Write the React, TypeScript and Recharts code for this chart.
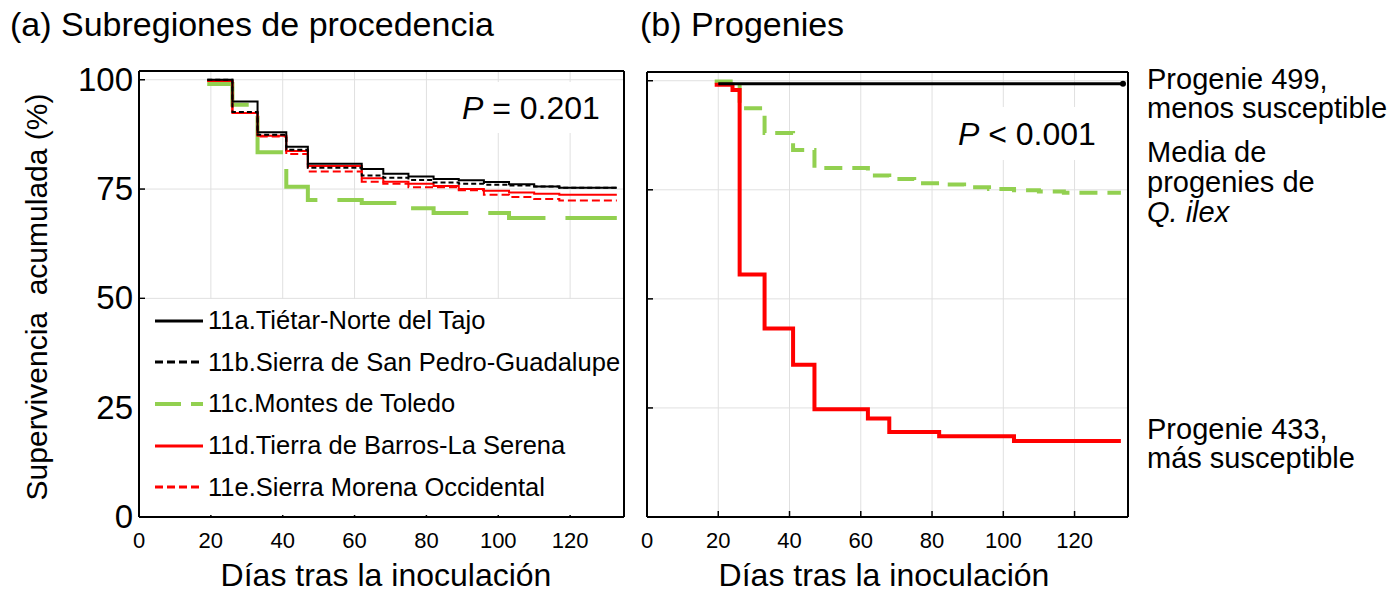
import React from 'react';
import { LineChart, Line, XAxis, YAxis, CartesianGrid, Legend } from 'recharts';

// (a) subregiones: weekly census days
const subregionDays = [19, 26, 33, 41, 47, 62, 68, 75, 82, 89, 96, 103, 110, 117, 133];
const surv11a = [100, 95, 88, 84.7, 80.8, 79.6, 78.5, 77.9, 77.3, 77, 76.6, 76.1, 75.6, 75.3, 75.3];
const surv11b = [100, 92.6, 87.4, 84, 79.9, 78.1, 77.6, 77.1, 76.5, 76.2, 76, 75.8, 75.6, 75.3, 75.3];
const surv11c = [99, 94.3, 83.4, 75.5, 72.5, 71.8, 71.8, 70.6, 69.5, 69.5, 69.5, 68.4, 68.4, 68.4, 68.4];
const surv11d = [99.7, 92.4, 87.2, 83.7, 80.3, 77.5, 76.7, 76.2, 75.7, 75, 74.6, 74.2, 73.9, 73.7, 73.7];
const surv11e = [99.7, 92.4, 87, 83, 79, 76.7, 76.2, 75.4, 75.4, 74.7, 73.7, 73.2, 72.7, 72.4, 72.4];
const subregionNames = [
    '11a.Tiétar-Norte del Tajo',
    '11b.Sierra de San Pedro-Guadalupe',
    '11c.Montes de Toledo',
    '11d.Tierra de Barros-La Serena',
    '11e.Sierra Morena Occidental',
];

// (b) progenies
const days499 = [20, 133.6];
const surv499 = [99.3, 99.3];
const daysMean = [19, 26, 33, 41, 47, 62, 68, 75, 82, 89, 96, 103, 110, 117, 133];
const survMean = [99.8, 93.7, 88, 84.1, 80, 78.3, 77.5, 76.5, 76.2, 75.6, 75.2, 74.9, 74.6, 74.3, 74.3];
const days433 = [19, 24, 26, 33, 41, 47, 62, 68, 82, 103, 133];
const surv433 = [99.1, 97.9, 55.6, 43.2, 34.9, 24.7, 22.6, 19.5, 18.5, 17.4, 17.4];

const xTicks = [0, 20, 40, 60, 80, 100, 120];
const yTicks = [0, 25, 50, 75, 100];

const zip = (days: number[], vals: number[]) => days.map((d, i) => ({ day: d, surv: vals[i] }));

const GREEN = '#92d050';
const RED = '#ff0000';

const subregionSeries = [
    { name: subregionNames[2], data: zip(subregionDays, surv11c), color: GREEN, width: 4, dash: '62 20', legendDash: '26 10' },
    { name: subregionNames[4], data: zip(subregionDays, surv11e), color: RED, width: 2, dash: '8 4', legendDash: '8 4' },
    { name: subregionNames[3], data: zip(subregionDays, surv11d), color: RED, width: 2, dash: undefined, legendDash: undefined },
    { name: subregionNames[1], data: zip(subregionDays, surv11b), color: '#000', width: 2, dash: '5 3', legendDash: '8 4' },
    { name: subregionNames[0], data: zip(subregionDays, surv11a), color: '#000', width: 2, dash: undefined, legendDash: undefined },
];
const legendOrder = [4, 3, 0, 2, 1];

const FONT = 'Arial, "Liberation Sans", Helvetica, sans-serif';

const LeftTick = ({ x, y, payload, showLabel }: any) => (
    <g>
        <line x1={x + 6} x2={x + 12} y1={y} y2={y} stroke="#000" strokeWidth={1.5} />
        {showLabel && (
            <text x={x} y={y + 11} textAnchor="end" fontSize={33} fill="#000">
                {payload.value}
            </text>
        )}
    </g>
);

const BottomTick = ({ x, y, payload }: any) => (
    <g>
        <line x1={x} x2={x} y1={y} y2={y - 6} stroke="#000" strokeWidth={1.5} />
        <text x={x} y={y + 31} textAnchor="middle" fontSize={22} fill="#000">
            {payload.value}
        </text>
    </g>
);

const SubregionLegend = () => (
    <div style={{ background: '#fff', width: 483, height: 216, paddingTop: 1, boxSizing: 'border-box', fontFamily: FONT }}>
        {legendOrder.map((idx) => {
            const s = subregionSeries[idx];
            return (
                <div key={s.name} style={{ display: 'flex', alignItems: 'center', height: 41.6 }}>
                    <svg width={48} height={10} style={{ marginLeft: 15, marginRight: 5 }}>
                        <line x1={0} x2={48} y1={5} y2={5} stroke={s.color} strokeWidth={s.width === 4 ? 4 : 3} strokeDasharray={s.legendDash} />
                    </svg>
                    <span style={{ fontSize: 25.5, color: '#000', whiteSpace: 'nowrap' }}>{s.name}</span>
                </div>
            );
        })}
    </div>
);

const EndDot = (props: any) => {
    const { cx, cy, index } = props;
    if (index !== days499.length - 1) return <g key={`d${index}`} />;
    return <circle key={`d${index}`} cx={cx} cy={cy} r={3} fill="#000" />;
};

const frameAxes = (showYLabels: boolean, yWidth: number) => [
    <CartesianGrid key="grid" stroke="#e0e0e0" strokeWidth={1} />,
    <XAxis
        key="xb"
        dataKey="day"
        type="number"
        domain={[0, 135]}
        ticks={xTicks}
        allowDataOverflow
        height={77}
        axisLine={{ stroke: '#000', strokeWidth: 2 }}
        tickLine={false}
        tickSize={0}
        tickMargin={0}
        tick={<BottomTick />}
    />,
    <XAxis
        key="xt"
        xAxisId="top"
        orientation="top"
        mirror
        type="number"
        domain={[0, 135]}
        ticks={xTicks}
        allowDataOverflow
        height={1}
        axisLine={{ stroke: '#000', strokeWidth: 2 }}
        tickLine={{ stroke: '#000', strokeWidth: 1.5 }}
        tickSize={6}
        tick={false}
    />,
    <YAxis
        key="yl"
        type="number"
        domain={[0, 102]}
        ticks={yTicks}
        allowDataOverflow
        width={yWidth}
        axisLine={{ stroke: '#000', strokeWidth: 2 }}
        tickLine={false}
        tickSize={0}
        tickMargin={6}
        tick={<LeftTick showLabel={showYLabels} />}
    />,
    <YAxis
        key="yr"
        yAxisId="right"
        orientation="right"
        mirror
        type="number"
        domain={[0, 102]}
        ticks={yTicks}
        allowDataOverflow
        width={1}
        axisLine={{ stroke: '#000', strokeWidth: 2 }}
        tickLine={{ stroke: '#000', strokeWidth: 1.5 }}
        tickSize={6}
        tick={false}
    />,
];

export default function App() {
    return (
        <div style={{ position: 'absolute', left: 0, top: 0, width: 1393, height: 594, background: '#fff', fontFamily: FONT }}>
            <div style={{ position: 'absolute', left: 0, top: 0 }}>
                <LineChart width={640} height={594} margin={{ top: 71, right: 16, bottom: 0, left: 0 }}>
                    {frameAxes(true, 139)}
                    <Legend
                        layout="horizontal"
                        verticalAlign="middle"
                        align="center"
                        content={<SubregionLegend />}
                        wrapperStyle={{ position: 'absolute', left: 140, top: 299, width: 483, height: 216 }}
                    />
                    {subregionSeries.map((s) => (
                        <Line
                            key={s.name}
                            data={s.data}
                            dataKey="surv"
                            name={s.name}
                            type="stepAfter"
                            stroke={s.color}
                            strokeWidth={s.width}
                            strokeDasharray={s.dash}
                            dot={false}
                            isAnimationActive={false}
                        />
                    ))}
                </LineChart>
            </div>
            <div style={{ position: 'absolute', left: 600, top: 0 }}>
                <LineChart width={540} height={594} margin={{ top: 72, right: 12, bottom: 0, left: 0 }}>
                    {frameAxes(false, 47)}
                    <Line
                        data={zip(daysMean, survMean)}
                        dataKey="surv"
                        name="Media de progenies de Q. ilex"
                        type="stepAfter"
                        stroke={GREEN}
                        strokeWidth={4}
                        strokeDasharray="18 10"
                        dot={false}
                        isAnimationActive={false}
                    />
                    <Line
                        data={zip(days433, surv433)}
                        dataKey="surv"
                        name="Progenie 433"
                        type="stepAfter"
                        stroke={RED}
                        strokeWidth={4}
                        dot={false}
                        isAnimationActive={false}
                    />
                    <Line
                        data={zip(days499, surv499)}
                        dataKey="surv"
                        name="Progenie 499"
                        type="stepAfter"
                        stroke="#000"
                        strokeWidth={3}
                        dot={<EndDot />}
                        isAnimationActive={false}
                    />
                </LineChart>
            </div>
            <svg width={1393} height={594} style={{ position: 'absolute', left: 0, top: 0, pointerEvents: 'none' }} fontFamily={FONT}>
                <text x={10} y={36} fontSize={34} fill="#000">(a) Subregiones de procedencia</text>
                <text x={640} y={36} fontSize={34} fill="#000">(b) Progenies</text>
                <text transform="translate(47, 297) rotate(-90)" textAnchor="middle" fontSize={30} fill="#000" style={{ whiteSpace: 'pre' }}>
                    {'Supervivencia  acumulada (%)'}
                </text>
                <text x={386} y={586} textAnchor="middle" fontSize={32} fill="#000">Días tras la inoculación</text>
                <text x={884} y={586} textAnchor="middle" fontSize={32} fill="#000">Días tras la inoculación</text>

                <rect x={452} y={82} width={160} height={51} fill="#fff" />
                <text x={462} y={119} fontSize={32} fill="#000">
                    <tspan fontStyle="italic">P</tspan> = 0.201
                </text>
                <rect x={948} y={107} width={162} height={53} fill="#fff" />
                <text x={958} y={145} fontSize={32} fill="#000">
                    <tspan fontStyle="italic">P</tspan> &lt; 0.001
                </text>

                <text x={1147} y={89} fontSize={29} fill="#000">Progenie 499,</text>
                <text x={1147} y={118} fontSize={29} fill="#000">menos susceptible</text>
                <text x={1147} y={162} fontSize={29} fill="#000">Media de</text>
                <text x={1147} y={192} fontSize={29} fill="#000">progenies de</text>
                <text x={1147} y={222} fontSize={29} fill="#000" fontStyle="italic">Q. ilex</text>
                <text x={1147} y={439} fontSize={29} fill="#000">Progenie 433,</text>
                <text x={1147} y={468} fontSize={29} fill="#000">más susceptible</text>
            </svg>
        </div>
    );
}
